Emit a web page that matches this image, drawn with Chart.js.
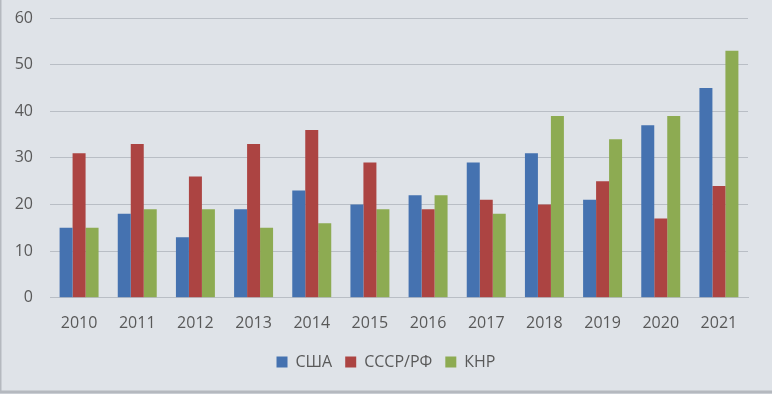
<!DOCTYPE html>
<html>
<head>
<meta charset="utf-8">
<script src="https://cdn.jsdelivr.net/npm/chart.js@4"></script>
<style>
  html, body { margin: 0; padding: 0; background: #dfe3e8; }
  #wrap { width: 772px; height: 394px; position: relative; }
</style>
</head>
<body>
<div id="wrap"><canvas id="myChart"></canvas></div>
<script>
const years = ["2010", "2011", "2012", "2013", "2014", "2015", "2016", "2017", "2018", "2019", "2020", "2021"];
const usa = [15, 18, 13, 19, 23, 20, 22, 29, 31, 21, 37, 45];
const rf = [31, 33, 26, 33, 36, 29, 19, 21, 20, 25, 17, 24];
const china = [15, 19, 19, 15, 16, 19, 22, 18, 39, 34, 39, 53];
const yTicks = [0, 10, 20, 30, 40, 50, 60];

const bg = {
  id: "bg",
  beforeDraw(chart) {
    const c = chart.ctx;
    c.save();
    c.fillStyle = "#dfe3e8";
    c.fillRect(0, 0, chart.width, chart.height);
    c.strokeStyle = "#b5b9bf";
    c.lineWidth = 3;
    c.strokeRect(0, -2, chart.width + 2, chart.height);
    c.restore();
  }
};

const ctx = document.getElementById("myChart");
new Chart(ctx, {
  type: "bar",
  data: {
    labels: years,
    datasets: [
      { label: "США", data: usa, backgroundColor: "#4572b0" },
      { label: "СССР/РФ", data: rf, backgroundColor: "#ac4442" },
      { label: "КНР", data: china, backgroundColor: "#8dab52" }
    ]
  },
  options: {
    responsive: true,
    maintainAspectRatio: false,
    animation: false,
    layout: { padding: { left: 0, right: 0, top: 18, bottom: 14 } },
    datasets: { bar: { barPercentage: 1, categoryPercentage: 0.67 } },
    plugins: {
      tooltip: { enabled: false },
      legend: {
        position: "bottom",
        labels: {
          boxWidth: 11, boxHeight: 11, padding: 13,
          color: "#595959",
          font: { family: "Open Sans", size: 16 }
        }
      }
    },
    scales: {
      x: {
        grid: { display: false },
        border: { color: "#b9bec5", width: 1 },
        ticks: { color: "#595959", padding: 8, font: { family: "Open Sans", size: 16 } }
      },
      y: {
        min: 0, max: 60,
        afterBuildTicks(axis) { axis.ticks = yTicks.map(v => ({ value: v })); },
        afterFit(axis) { axis.width = 50; axis.paddingTop = 0; axis.paddingBottom = 0; },
        grid: { color: "#b9bec5", drawTicks: false },
        border: { display: false },
        ticks: { color: "#595959", padding: 17, font: { family: "Open Sans", size: 16 } }
      },
      yRight: {
        position: "right",
        afterFit(axis) { axis.width = 24; axis.paddingTop = 0; axis.paddingBottom = 0; },
        grid: { display: false },
        border: { display: false },
        ticks: { display: false }
      }
    }
  },
  plugins: [bg]
});
</script>
</body>
</html>
